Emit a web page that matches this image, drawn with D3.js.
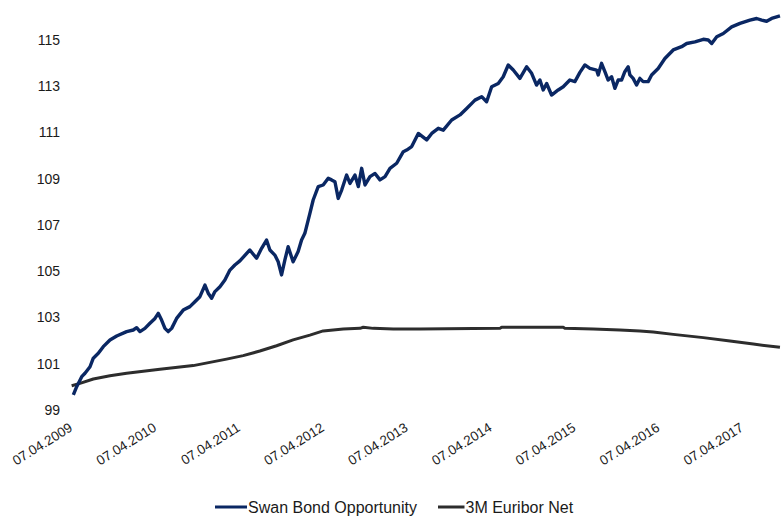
<!DOCTYPE html>
<html><head><meta charset="utf-8">
<script src="https://cdn.jsdelivr.net/npm/d3@7"></script>
<style>
html,body{margin:0;padding:0;background:#fff;}
svg{display:block;font-family:"Liberation Sans",Arial,sans-serif;}
</style></head>
<body><svg id="c" width="781" height="518"></svg>
<script>
// Swan Bond Opportunity: [decimal year, value]
const swanYears = [2009.279,2009.319,2009.379,2009.418,2009.478,2009.517,2009.577,2009.636,2009.716,2009.796,2009.915,2009.994,2010.034,2010.074,2010.133,2010.193,2010.253,2010.292,2010.332,2010.372,2010.411,2010.452,2010.511,2010.590,2010.670,2010.729,2010.789,2010.849,2010.888,2010.929,2010.968,2011.028,2011.087,2011.147,2011.206,2011.266,2011.385,2011.465,2011.525,2011.584,2011.624,2011.683,2011.723,2011.763,2011.803,2011.842,2011.901,2011.961,2012.002,2012.041,2012.101,2012.140,2012.200,2012.259,2012.319,2012.359,2012.399,2012.438,2012.479,2012.538,2012.578,2012.637,2012.677,2012.717,2012.757,2012.816,2012.876,2012.935,2012.995,2013.054,2013.134,2013.213,2013.253,2013.313,2013.392,2013.492,2013.552,2013.630,2013.690,2013.790,2013.889,2013.969,2014.068,2014.148,2014.207,2014.267,2014.346,2014.405,2014.465,2014.525,2014.604,2014.684,2014.744,2014.803,2014.843,2014.882,2014.923,2014.982,2015.061,2015.121,2015.200,2015.260,2015.320,2015.379,2015.439,2015.519,2015.538,2015.578,2015.618,2015.657,2015.698,2015.737,2015.776,2015.817,2015.856,2015.896,2015.916,2015.955,2015.996,2016.035,2016.074,2016.134,2016.175,2016.253,2016.333,2016.432,2016.532,2016.592,2016.691,2016.790,2016.849,2016.890,2016.950,2017.028,2017.128,2017.227,2017.346,2017.426,2017.486,2017.545,2017.605,2017.704];
const swanValues = [99.65,100.01,100.44,100.59,100.87,101.24,101.45,101.74,102.03,102.20,102.39,102.46,102.56,102.39,102.53,102.75,102.96,103.18,102.89,102.53,102.39,102.53,102.96,103.32,103.47,103.68,103.90,104.40,104.05,103.83,104.12,104.33,104.62,105.05,105.27,105.45,105.92,105.56,105.99,106.35,105.92,105.70,105.41,104.84,105.49,106.06,105.41,105.85,106.35,106.64,107.50,108.08,108.66,108.73,109.02,108.95,108.87,108.15,108.51,109.16,108.80,109.16,108.66,109.45,108.73,109.09,109.23,108.95,109.09,109.45,109.67,110.17,110.24,110.39,110.96,110.68,110.96,111.18,111.10,111.54,111.76,112.04,112.40,112.55,112.33,112.98,113.12,113.41,113.92,113.70,113.34,113.84,113.56,113.05,113.27,112.84,113.12,112.62,112.84,112.98,113.27,113.20,113.60,113.92,113.77,113.70,113.49,113.99,113.63,113.27,113.41,112.91,113.27,113.27,113.63,113.84,113.49,113.34,113.05,113.34,113.20,113.20,113.49,113.77,114.20,114.57,114.71,114.85,114.92,115.03,115.00,114.85,115.14,115.28,115.57,115.72,115.86,115.93,115.86,115.81,115.93,116.04];

// 3M Euribor Net
const euriborYears = [2009.259,2009.358,2009.517,2009.716,2009.915,2010.312,2010.709,2011.107,2011.305,2011.504,2011.704,2011.901,2012.101,2012.259,2012.498,2012.697,2012.736,2012.855,2013.094,2013.412,2014.366,2014.386,2015.121,2015.141,2015.478,2015.797,2016.035,2016.194,2016.432,2016.790,2017.108,2017.386,2017.704];
const euriborValues = [100.05,100.15,100.34,100.48,100.59,100.76,100.92,101.20,101.35,101.55,101.78,102.03,102.24,102.42,102.50,102.53,102.58,102.53,102.50,102.50,102.53,102.58,102.58,102.53,102.50,102.46,102.42,102.37,102.27,102.13,101.98,101.85,101.71];

const yTicks = [99,101,103,105,107,109,111,113,115];
const xTickLabels = ["07.04.2009","07.04.2010","07.04.2011","07.04.2012","07.04.2013","07.04.2014","07.04.2015","07.04.2016","07.04.2017"];
const seriesNames = ["Swan Bond Opportunity","3M Euribor Net"];
const seriesColors = ["#0a2763","#2d2d2d"];

const parse = d3.timeParse("%d.%m.%Y");
function decToDate(y){
  const yr = Math.floor(y);
  const s = Date.UTC(yr,0,1), e = Date.UTC(yr+1,0,1);
  return new Date(s + (y-yr)*(e-s));
}
const svg = d3.select("#c");

const x = d3.scaleTime()
  .domain([parse(xTickLabels[0]), parse(xTickLabels[xTickLabels.length-1])])
  .range([72, 743]);
const y = d3.scaleLinear().domain([99,115]).range([410,40]);

// Y axis labels
const yAxis = d3.axisLeft(y).tickValues(yTicks).tickSize(0).tickPadding(0).tickFormat(d3.format("d"));
const gy = svg.append("g").attr("transform","translate(60,0)").call(yAxis);
gy.select(".domain").remove();
gy.selectAll("text").attr("font-size",14).attr("fill","#1a1a1a").attr("font-family","Liberation Sans, Arial, sans-serif");

// X axis labels
const xAxis = d3.axisBottom(x).tickValues(xTickLabels.map(parse)).tickSize(0).tickFormat(d3.timeFormat("%d.%m.%Y"));
const gx = svg.append("g").attr("transform","translate(0,430)").call(xAxis);
gx.select(".domain").remove();
gx.selectAll("text")
  .attr("font-size",13.5).attr("fill","#1a1a1a").attr("font-family","Liberation Sans, Arial, sans-serif")
  .attr("text-anchor","end").attr("dy",0).attr("y",0)
  .attr("transform","translate(1,0) rotate(-32)");

const line = d3.line().x(d=>x(d[0])).y(d=>y(d[1]));
const swan = swanYears.map((t,i)=>[decToDate(t), swanValues[i]]);
const eur = euriborYears.map((t,i)=>[decToDate(t), euriborValues[i]]);

svg.append("path").datum(eur).attr("d",line).attr("fill","none")
  .attr("stroke",seriesColors[1]).attr("stroke-width",3).attr("stroke-linejoin","round");
svg.append("path").datum(swan).attr("d",line).attr("fill","none")
  .attr("stroke",seriesColors[0]).attr("stroke-width",3.4).attr("stroke-linejoin","round");

// Legend
const legendPos = [{lx:215, tx:248},{lx:438, tx:465.5}];
seriesNames.forEach((n,i)=>{
  const p = legendPos[i];
  svg.append("line").attr("x1",p.lx).attr("x2",p.tx-1).attr("y1",507).attr("y2",507)
    .attr("stroke",seriesColors[i]).attr("stroke-width",3);
  svg.append("text").attr("x",p.tx).attr("y",513).attr("font-size",16).attr("fill","#1a1a1a").text(n);
});
</script></body></html>
